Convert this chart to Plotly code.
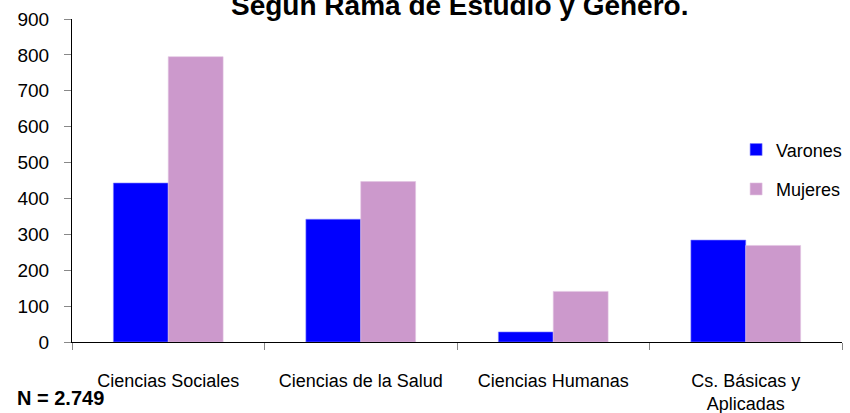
import plotly.graph_objects as go

categories = ["Ciencias Sociales", "Ciencias de la Salud", "Ciencias Humanas", "Cs. Básicas y<br>Aplicadas"]
varones = [443, 342, 28, 284]
mujeres = [795, 447, 141, 269]
title_text = "Según Rama de Estudio y Género."
note_text = "N = 2.749"

FONT = "Liberation Sans, Arial, sans-serif"

fig = go.Figure()
fig.add_trace(go.Bar(x=categories, y=varones, name="Varones",
                     marker=dict(color="#0000FF", line=dict(color="#7f7fff", width=0.6)),
                     legendgroup="v"))
fig.add_trace(go.Bar(x=categories, y=mujeres, name="Mujeres",
                     marker=dict(color="#CC99CC", line=dict(color="#e2c5e2", width=0.6)),
                     legendgroup="m"))

fig.update_layout(
    width=850, height=413,
    margin=dict(l=72, r=8, t=19, b=71, autoexpand=False),
    paper_bgcolor="white", plot_bgcolor="white",
    barmode="group", bargap=0.43, bargroupgap=0,
    font=dict(family=FONT, size=18, color="#000000"),
    legend=dict(xref="container", yref="container", x=0.866, xanchor="left",
                y=0.682, yanchor="top",
                traceorder="grouped", tracegroupgap=13,
                font=dict(family=FONT, size=18, color="#000000"),
                itemwidth=30, bgcolor="rgba(0,0,0,0)"),
    showlegend=True,
)

fig.update_xaxes(showline=True, linecolor="#000000", linewidth=1,
                 ticks="outside", tickson="boundaries", ticklen=7, tickcolor="#888888",
                 ticklabelstandoff=22, showgrid=False, automargin=False,
                 tickfont=dict(family=FONT, size=18, color="#000000"))
fig.update_yaxes(range=[0, 900], dtick=100, showline=True, linecolor="#000000", linewidth=1,
                 ticks="outside", ticklen=7, tickcolor="#888888", showgrid=False, zeroline=False,
                 ticklabelstandoff=11, automargin=False,
                 tickfont=dict(family=FONT, size=19, color="#000000"))

fig.add_annotation(text="<b>" + title_text + "</b>", xref="paper", yref="paper",
                   x=(460 - 72) / 770, y=1.0, xanchor="center", yanchor="middle", yshift=14,
                   showarrow=False,
                   font=dict(family=FONT, size=28, color="#000000"))

fig.add_annotation(text="<b>" + note_text + "</b>", xref="paper", yref="paper",
                   x=-0.074, y=-0.173, xanchor="left", yanchor="middle", showarrow=False,
                   font=dict(family=FONT, size=20, color="#000000"))

fig.write_html("out.html", config={"displayModeBar": False},
               post_script="document.body.style.margin='0';document.body.style.overflow='hidden';")
